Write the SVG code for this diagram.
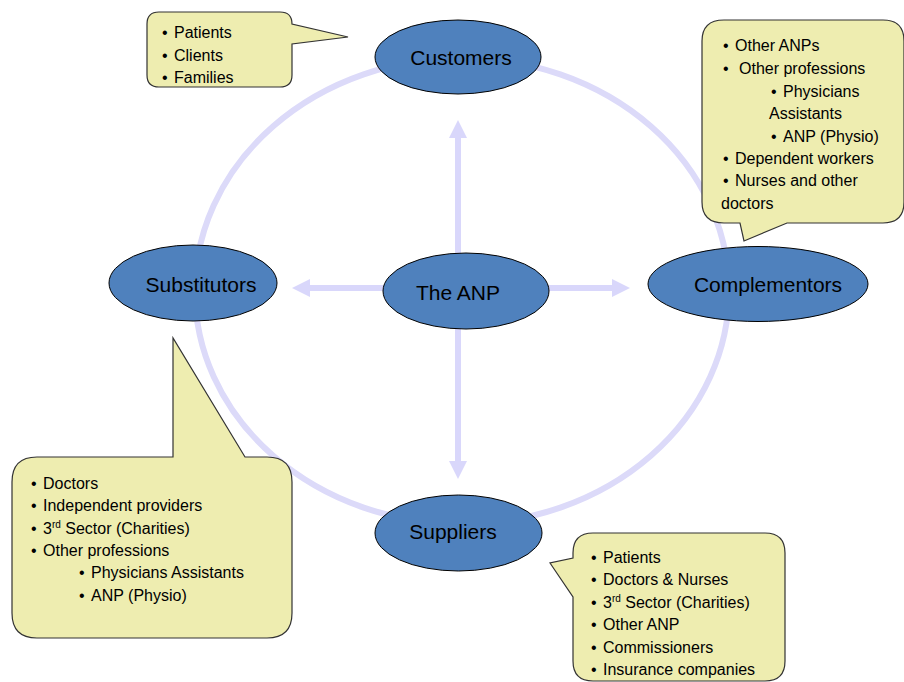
<svg xmlns="http://www.w3.org/2000/svg" width="904" height="682" viewBox="0 0 904 682">
<style>
  .node ellipse { fill: #4f81bd; stroke: #000; stroke-width: 1; }
  .lbl { font-family: "Liberation Sans", Arial, sans-serif; font-size: 21px; fill: #000; text-anchor: middle; }
  .call { fill: #eeedb0; stroke: #333; stroke-width: 1.2; stroke-linejoin: miter; }
  .ct { font-family: "Liberation Sans", Arial, sans-serif; font-size: 16px; fill: #000; }
  .sup { font-size: 10px; }
  .conn { stroke: #d9d7fb; stroke-width: 6; fill: none; }
</style>
<defs>
  <marker id="ah" viewBox="0 0 18 18" refX="1" refY="9" markerUnits="userSpaceOnUse" markerWidth="18" markerHeight="18" orient="auto">
    <path d="M0,0 L18,9 L0,18 Z" fill="#d9d7fb"/>
  </marker>
</defs>
<rect width="904" height="682" fill="#fff"/>

<g id="cycle">
  <ellipse cx="462" cy="291" rx="267" ry="233" fill="none" stroke="#dcdaf9" stroke-width="6"/>
</g>

<g id="connectors">
  <line class="conn" x1="458" y1="254" x2="458" y2="137" marker-end="url(#ah)"/>
  <line class="conn" x1="458" y1="328" x2="458" y2="462" marker-end="url(#ah)"/>
  <line class="conn" x1="384" y1="288" x2="309" y2="288" marker-end="url(#ah)"/>
  <line class="conn" x1="548" y1="288" x2="613" y2="288" marker-end="url(#ah)"/>
</g>

<g id="customers" class="node">
  <ellipse cx="458" cy="57" rx="83" ry="37"/>
  <text class="lbl" x="461" y="65">Customers</text>
</g>
<g id="substitutors" class="node">
  <ellipse cx="193" cy="283" rx="84" ry="38"/>
  <text class="lbl" x="201" y="292">Substitutors</text>
</g>
<g id="the-anp" class="node">
  <ellipse cx="466" cy="291" rx="83" ry="38"/>
  <text class="lbl" x="458" y="300">The ANP</text>
</g>
<g id="complementors" class="node">
  <ellipse cx="758" cy="284" rx="110" ry="37.5"/>
  <text class="lbl" x="768" y="292">Complementors</text>
</g>
<g id="suppliers" class="node">
  <ellipse cx="458.5" cy="533" rx="83.5" ry="38"/>
  <text class="lbl" x="453" y="539">Suppliers</text>
</g>

<g id="callout-customers">
  <path class="call" d="M159,12 H280 Q292,12 292,24 L348,37 L292,44 V75 Q292,87 280,87 H159 Q147,87 147,75 V24 Q147,12 159,12 Z"/>
  <text class="ct"><tspan x="162" y="38">•</tspan><tspan x="174" y="38">Patients</tspan></text>
  <text class="ct"><tspan x="162" y="61">•</tspan><tspan x="174" y="61">Clients</tspan></text>
  <text class="ct"><tspan x="162" y="83">•</tspan><tspan x="174" y="83">Families</tspan></text>
</g>

<g id="callout-complementors">
  <path class="call" d="M724,20 H883 Q904,20 904,41 V202 Q904,223 883,223 H787 L744,241 L740,223 H724 Q702,223 702,202 V41 Q702,20 724,20 Z"/>
  <text class="ct"><tspan x="723" y="51">•</tspan><tspan x="735" y="51">Other ANPs</tspan></text>
  <text class="ct"><tspan x="723" y="74">•</tspan><tspan x="739" y="74">Other professions</tspan></text>
  <text class="ct"><tspan x="771" y="97">•</tspan><tspan x="783" y="97">Physicians</tspan></text>
  <text class="ct"><tspan x="769" y="119">Assistants</tspan></text>
  <text class="ct"><tspan x="771" y="142">•</tspan><tspan x="783" y="142">ANP (Physio)</tspan></text>
  <text class="ct"><tspan x="723" y="164">•</tspan><tspan x="735" y="164">Dependent workers</tspan></text>
  <text class="ct"><tspan x="723" y="186">•</tspan><tspan x="735" y="186">Nurses and other</tspan></text>
  <text class="ct"><tspan x="721" y="209">doctors</tspan></text>
</g>

<g id="callout-substitutors">
  <path class="call" d="M37,457 H173 V338 L245,457 H267 Q292,457 292,482 V613 Q292,638 267,638 H37 Q12,638 12,613 V482 Q12,457 37,457 Z"/>
  <text class="ct"><tspan x="31" y="489">•</tspan><tspan x="43" y="489">Doctors</tspan></text>
  <text class="ct"><tspan x="31" y="511">•</tspan><tspan x="43" y="511">Independent providers</tspan></text>
  <text class="ct"><tspan x="31" y="534">•</tspan><tspan x="43" y="534">3</tspan><tspan class="sup" dy="-6">rd</tspan><tspan dy="6"> Sector (Charities)</tspan></text>
  <text class="ct"><tspan x="31" y="556">•</tspan><tspan x="43" y="556">Other professions</tspan></text>
  <text class="ct"><tspan x="79" y="578">•</tspan><tspan x="91" y="578">Physicians Assistants</tspan></text>
  <text class="ct"><tspan x="79" y="601">•</tspan><tspan x="91" y="601">ANP (Physio)</tspan></text>
</g>

<g id="callout-suppliers">
  <path class="call" d="M593,533 H765 Q785,533 785,553 V661 Q785,681 765,681 H593 Q573,681 573,661 V597 L550,563 L573,558 V553 Q573,533 593,533 Z"/>
  <text class="ct"><tspan x="591" y="563">•</tspan><tspan x="603" y="563">Patients</tspan></text>
  <text class="ct"><tspan x="591" y="585">•</tspan><tspan x="603" y="585">Doctors &amp; Nurses</tspan></text>
  <text class="ct"><tspan x="591" y="608">•</tspan><tspan x="603" y="608">3</tspan><tspan class="sup" dy="-6">rd</tspan><tspan dy="6"> Sector (Charities)</tspan></text>
  <text class="ct"><tspan x="591" y="630">•</tspan><tspan x="603" y="630">Other ANP</tspan></text>
  <text class="ct"><tspan x="591" y="653">•</tspan><tspan x="603" y="653">Commissioners</tspan></text>
  <text class="ct"><tspan x="591" y="675">•</tspan><tspan x="603" y="675">Insurance companies</tspan></text>
</g>
</svg>
